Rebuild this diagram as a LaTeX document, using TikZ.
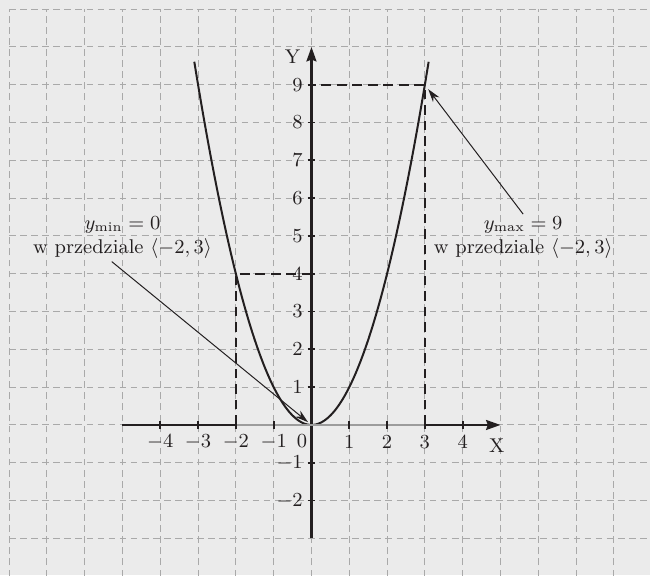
\documentclass[tikz,border=0pt]{standalone}
\usepackage{amsmath}
\usepackage{xcolor}
\usepackage{tikz}
\usetikzlibrary{positioning, arrows.meta, calc}
\definecolor{bggrey}{HTML}{EBEBEB}
\definecolor{gridgrey}{HTML}{A9A9A9}
\definecolor{intgrey}{HTML}{9C9C9C}
\definecolor{ink}{HTML}{231F20}

\begin{document}
\begin{tikzpicture}[
    x=0.6cm, y=0.6cm,
    font=\fontsize{9}{11}\selectfont,
    gridline/.style={gridgrey, line width=0.45pt, dash pattern=on 3pt off 2pt},
    guide/.style={ink, line width=0.9pt, dash pattern=on 4.5pt off 2.5pt},
    curve/.style={ink, line width=0.9pt},
    axis/.style={ink, line width=1pt, -{Stealth[length=6.5pt, width=4.5pt, inset=0.8pt]}},
    interval/.style={intgrey, line width=1.1pt},
    tickmark/.style={ink, line width=0.8pt},
    ticklbl/.style={ink, inner sep=0pt},
    note/.style={ink, align=center, inner sep=1pt},
    pointer/.style={ink, line width=0.45pt, -{Stealth[length=6pt, width=3.6pt]}},
]

% --- page and grid ---
\useasboundingbox (-8.24,-3.97) rectangle (8.956,11.243);
\fill[bggrey] (-8.24,-3.97) rectangle (8.956,11.243);
\clip (-8.24,-3.97) rectangle (8.956,11.243);
\draw[gridline, step=1] (-8,-4) grid (9,11);

% --- points used below ---
\coordinate (orig) at (0,0);
\coordinate (m2) at (-2,0);
\coordinate (p4) at (-2,4);
\coordinate (y4) at (0,4);
\coordinate (p3) at (3,0);
\coordinate (p9) at (3,9);
\coordinate (y9) at (0,9);
\coordinate (xs) at (-5,0);
\coordinate (xe) at (5,0);
\coordinate (ys) at (0,-3);
\coordinate (ye) at (0,10);

% --- dashed guides ---
\draw[guide] (m2) -- (p4) -- (y4);
\draw[guide] (p3) -- (p9) -- (y9);

% --- parabola ---
\draw[curve] plot[domain=-3.1:3.1, samples=80, smooth] (\x, {\x*\x});

% --- axes ---
\draw[axis] (xs) -- (xe);
\draw[axis] (ys) -- (ye);
\draw[interval] (m2) -- (p3);

\foreach \i in {-4,-3,-2,-1,1,2,3,4}
    \draw[tickmark] (\i,-0.1) -- (\i,0.1);
\foreach \i in {-2,-1,1,2,3,4,5,6,7,8,9}
    \draw[tickmark] (-0.1,\i) -- (0.1,\i);

% --- tick labels ---
\foreach \i in {-4,-3,-2,-1,1,2,3,4}
    \node[ticklbl] (xl\i) at (\i,-0.45) {$\i$};
\foreach \i in {-2,-1,1,2,3,4,5,6,7,8,9}
    \node[ticklbl, anchor=east] (yl\i) at (-0.22,\i) {$\i$};
\node[ticklbl] (zero) at (-0.25,-0.42) {$0$};
\node[ticklbl] (xname) at (4.9,-0.55) {X};
\node[ticklbl] (yname) at (-0.5,9.74) {Y};

% --- notes ---
\node[note] (minlbl) at (-5,4.95)
    {$y_{\text{min}} = 0$\\w przedziale $\langle -2, 3\rangle$};
\node[note] (maxlbl) at (5.6,4.95)
    {$y_{\text{max}} = 9$\\w przedziale $\langle -2, 3\rangle$};

\draw[pointer, shorten >=2pt] ([xshift=-0.17cm]minlbl.south) -- (orig);
\draw[pointer, shorten >=2.5pt] (maxlbl.north) -- (p9);

\end{tikzpicture}
\end{document}
